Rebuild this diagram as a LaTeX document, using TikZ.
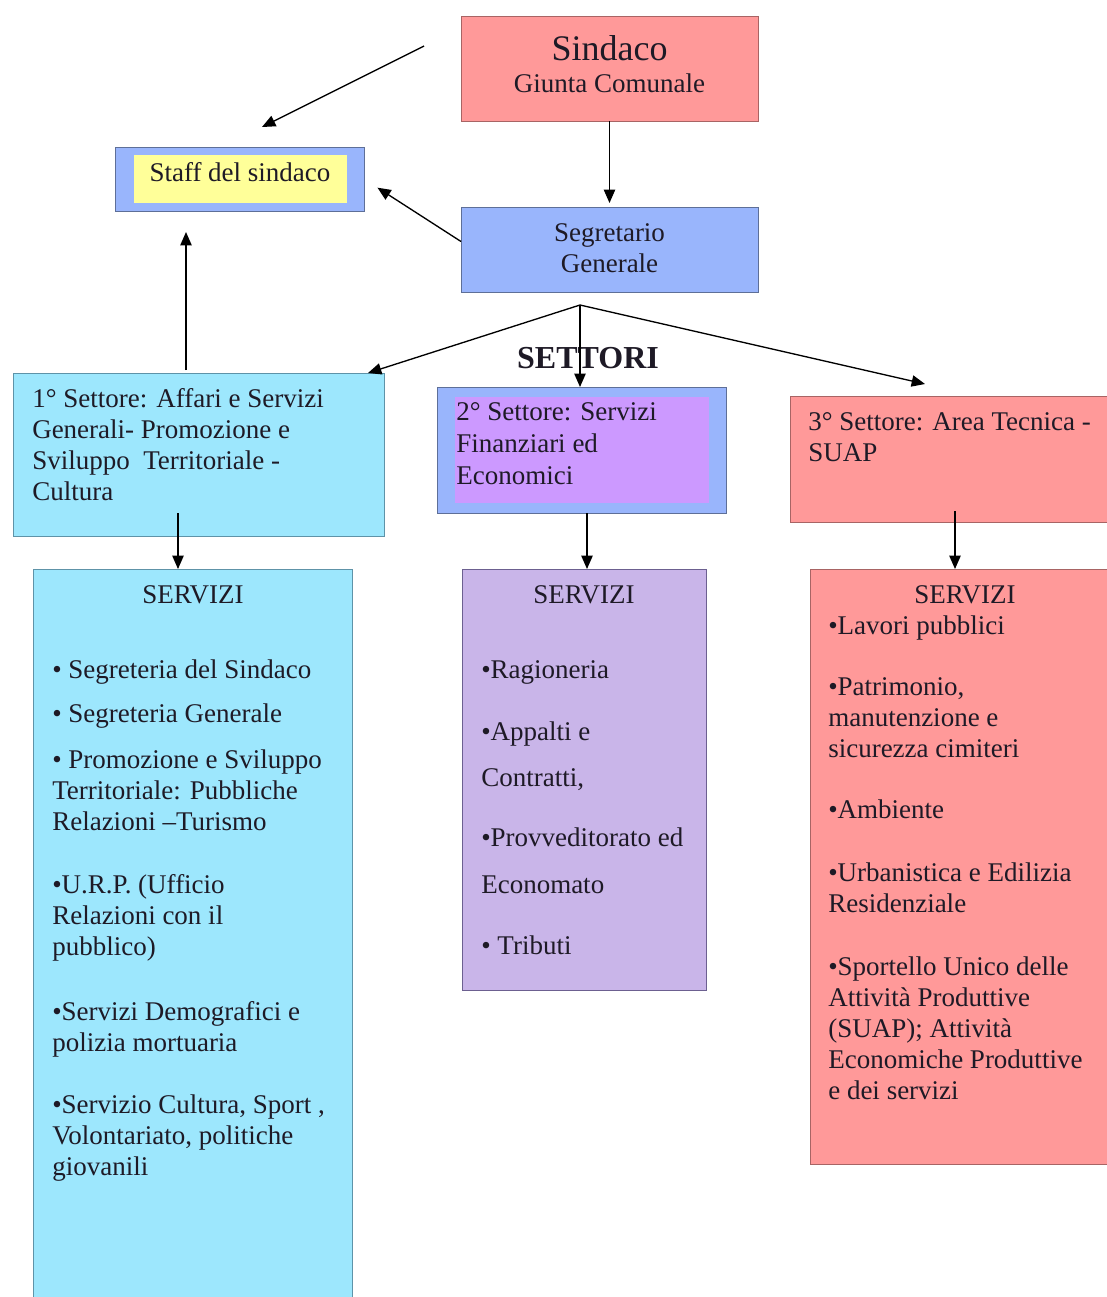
\documentclass[tikz,border=0pt]{standalone}
\usepackage{fontspec}
\setmainfont{Liberation Serif}
\usepackage{tikz}
\usetikzlibrary{positioning,arrows.meta,calc}

\definecolor{pinkC}{HTML}{FF9999}
\definecolor{pinkD}{HTML}{A86464}
\definecolor{blueC}{HTML}{99B5FC}
\definecolor{blueD}{HTML}{5E6F98}
\definecolor{yellowC}{HTML}{FFFF99}
\definecolor{cyanC}{HTML}{9DE7FD}
\definecolor{cyanD}{HTML}{5E93A8}
\definecolor{violetC}{HTML}{CC99FF}
\definecolor{lavC}{HTML}{C9B5E9}
\definecolor{lavD}{HTML}{6C6090}
\definecolor{inkC}{HTML}{1E1A26}

\begin{document}
\begin{tikzpicture}[x=0.75pt,y=0.75pt,yscale=-1,xscale=1,
    sz/.style 2 args={minimum width={#1*0.75pt},minimum height={#2*0.75pt}},
    box/.style={draw=#1,line width=0.6pt,anchor=north west,inner sep=0pt,outer sep=0pt},
    txt/.style={text=inkC,font=\fontsize{20.25}{23.25}\selectfont,inner sep=0pt,align=left,anchor=base west},
    ttl/.style={text=inkC,font=\fontsize{20.25}{23.25}\selectfont,inner sep=0pt,anchor=base},
    arr/.style={-{Triangle[length=10pt,width=8.5pt]},line width=1pt}]
        \useasboundingbox (0,0) rectangle (1107,1297);
        % multi-line texts are placed at the baseline of their last line
        %Shape: Rectangle
        \node[box=pinkD,fill=pinkC,sz={297}{105}] (sindaco) at (461,16) {};
        % Text Node
        \node[ttl,font=\fontsize{27}{30}\selectfont] (sindacoT) at (609.5,60) {Sindaco};
        \node[ttl] (giunta) at (609.5,92) {Giunta Comunale};
        %Shape: Rectangle
        \node[box=blueD,fill=blueC,sz={249}{64}] (staff) at (115,147) {};
        \node[box=yellowC,fill=yellowC,sz={212}{47}] (staffin) at (134,155) {};
        % Text Node
        \node[ttl] (staffT) at (240,181) {Staff del sindaco};
        %Shape: Rectangle
        \node[box=blueD,fill=blueC,sz={297}{85}] (segr) at (461,207) {};
        % Text Node
        \node[ttl,align=center] (segrT) at (609.5,272) {Segretario\\Generale};

        % Text Node
        \node[ttl,font=\bfseries\fontsize{24}{28}\selectfont] (settori) at (588,368) {SETTORI};

        %Shape: Rectangle
        \node[box=cyanD,fill=cyanC,sz={371}{163}] (sec1) at (13,373) {};
        \node[txt] (sec1T) at (32,500) {1° Settore: Affari e Servizi\\Generali- Promozione e\\Sviluppo \ Territoriale -\\Cultura};
        %Shape: Rectangle
        \node[box=blueD,fill=blueC,sz={289}{126}] (sec2) at (437,387) {};
        \node[box=violetC,fill=violetC,sz={253}{105}] (sec2in) at (455,397) {};
        \node[txt,font=\fontsize{20.25}{24}\selectfont] (sec2T) at (456,484) {2° Settore: Servizi\\Finanziari ed\\Economici};
        %Shape: Rectangle
        \node[box=pinkD,fill=pinkC,sz={330}{126}] (sec3) at (790,396) {};
        \node[txt] (sec3T) at (808,461) {3° Settore: Area Tecnica -\\SUAP};

        %Shape: Rectangle
        \node[box=cyanD,fill=cyanC,sz={319}{760}] (srv1) at (33,569) {};
        \node[ttl] (srv1T) at (193,603) {SERVIZI};
        \node[txt] (a1) at (52,678) {• Segreteria del Sindaco};
        \node[txt] (a2) at (52,722) {• Segreteria Generale};
        \node[txt] (a3) at (52,830) {• Promozione e Sviluppo\\Territoriale: Pubbliche\\Relazioni –Turismo};
        \node[txt] (a4) at (52,955) {•U.R.P. (Ufficio\\Relazioni con il\\pubblico)};
        \node[txt] (a5) at (52,1051) {•Servizi Demografici e\\polizia mortuaria};
        \node[txt] (a6) at (52,1175) {•Servizio Cultura, Sport ,\\Volontariato, politiche\\giovanili};
        %Shape: Rectangle
        \node[box=lavD,fill=lavC,sz={244}{421}] (srv2) at (462,569) {};
        \node[ttl] (srv2T) at (584,603) {SERVIZI};
        \node[txt] (b1) at (481,678) {•Ragioneria};
        \node[txt,font=\fontsize{20.25}{34.5}\selectfont] (b2) at (481,786) {•Appalti e\\Contratti,};
        \node[txt,font=\fontsize{20.25}{35.25}\selectfont] (b3) at (481,893) {•Provveditorato ed\\Economato};
        \node[txt] (b4) at (481,954) {• Tributi};
        %Shape: Rectangle
        \node[box=pinkD,fill=pinkC,sz={310}{595}] (srv3) at (810,569) {};
        \node[ttl] (srv3T) at (965,603) {SERVIZI};
        \node[txt] (c1) at (828,634) {•Lavori pubblici};
        \node[txt] (c2) at (828,757) {•Patrimonio,\\manutenzione e\\sicurezza cimiteri};
        \node[txt] (c3) at (828,818) {•Ambiente};
        \node[txt] (c4) at (828,912) {•Urbanistica e Edilizia\\Residenziale};
        \node[txt] (c5) at (828,1099) {•Sportello Unico delle\\Attività Produttive\\(SUAP); Attività\\Economiche Produttive\\e dei servizi};

        %Straight Lines
        \coordinate (loose) at (424,46);
        \coordinate (staffTop) at (262,127);
        \draw[arr] (loose) -- (staffTop);
        \draw[arr,shorten >=3pt] (sindaco.south) -- (segr.north);
        \draw[arr,shorten >=12pt] ([yshift=-6pt]segr.west) -- (staff.east);
        \coordinate (s1up) at (186,370);
        \draw[arr,shorten >=15.75pt] (s1up) -- (s1up |- staff.south);
        %Straight Lines
        \coordinate (fan) at (580,305);
        \draw[arr] (fan) -- ($(sec1.north east)+(-16,0)$);
        \draw[arr] (fan) -- (fan |- sec2.north);
        \draw[arr] (fan) -- ($(sec3.north west)+(135,-12)$);
        %Straight Lines
        \coordinate (s1dn) at (178,513);
        \draw[arr] (s1dn) -- (s1dn |- srv1.north);
        \coordinate (s2dn) at (587,513);
        \draw[arr] (s2dn) -- (s2dn |- srv2.north);
        \coordinate (s3dn) at (955,511);
        \draw[arr] (s3dn) -- (s3dn |- srv3.north);
\end{tikzpicture}
\end{document}
